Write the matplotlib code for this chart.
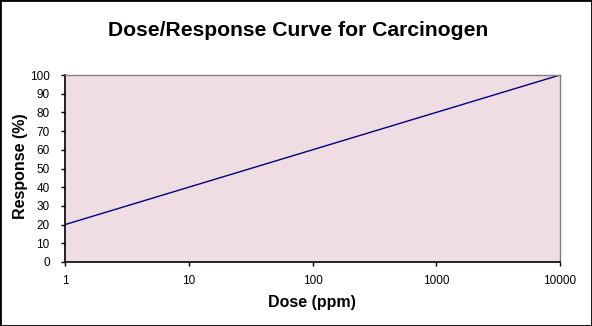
import matplotlib
matplotlib.use("Agg")
import matplotlib.pyplot as plt
from matplotlib.patches import Rectangle

plt.rcParams['font.family'] = ['Liberation Sans', 'DejaVu Sans']

dose = [1, 10000]
response = [20, 100]
x_ticks = [1, 10, 100, 1000, 10000]
x_tick_labels = ['1', '10', '100', '1000', '10000']
y_ticks = list(range(0, 101, 10))

fig = plt.figure(figsize=(5.92, 3.26), dpi=100)
fig.patches.append(Rectangle((0, 0), 1, 1, transform=fig.transFigure,
                             fill=False, edgecolor='black', linewidth=2, zorder=10))
ax = fig.add_axes([65/592, 1-262/326, (560-65)/592, (262-75)/326])
ax.set_facecolor('#f0dde3')
ax.plot(dose, response, color='#000080', linewidth=1)
ax.set_xscale('log')
ax.set_xlim(1, 10000)
ax.set_ylim(0, 100)
ax.set_xticks(x_ticks)
ax.set_xticklabels(x_tick_labels)
ax.xaxis.set_minor_locator(matplotlib.ticker.NullLocator())
ax.set_yticks(y_ticks)
ax.tick_params(axis='both', direction='out', length=3, width=1, labelsize=8.5)
ax.tick_params(axis='x', pad=6)
ax.tick_params(axis='y', pad=8)
for s in ['left', 'bottom']:
    ax.spines[s].set_color('black')
    ax.spines[s].set_linewidth(1.2)
for s in ['top', 'right']:
    ax.spines[s].set_color('#808080')
    ax.spines[s].set_linewidth(1)
fig.text(298/592, 1-30/326, 'Dose/Response Curve for Carcinogen', ha='center', va='center',
         fontsize=15.2, fontweight='bold')
fig.text(312/592, 1-303/326, 'Dose (ppm)', ha='center', va='center', fontsize=11.5, fontweight='bold')
fig.text(21/592, 1-166/326, 'Response (%)', ha='center', va='center', rotation=90,
         fontsize=11.5, fontweight='bold')
fig.savefig('out.png', dpi=100)
